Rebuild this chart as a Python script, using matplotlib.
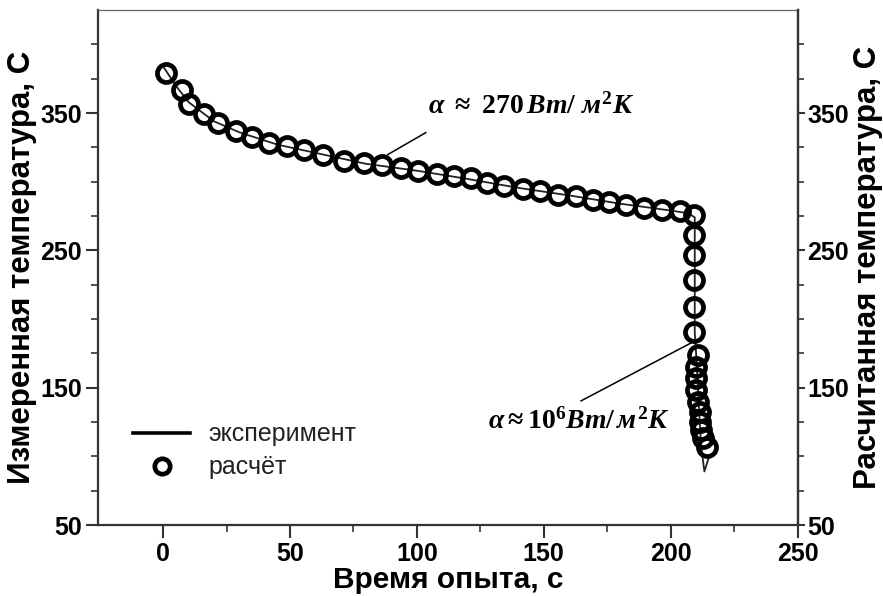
import matplotlib
matplotlib.use("Agg")
import matplotlib.pyplot as plt
from matplotlib.ticker import FixedLocator

# расчёт (circles)
t_calc = [1.2, 7.4, 10.4, 16.2, 21.8, 28.8, 35.0, 41.6, 48.9, 55.7, 63.1, 71.2, 79.1,
          86.4, 93.6, 100.6, 107.8, 114.7, 121.2, 127.8, 134.4, 141.7, 148.6, 155.5,
          162.7, 169.3, 175.9, 182.5, 189.7, 196.6, 203.5, 209.4,
          209.4, 209.4, 209.4, 209.4, 209.4,
          210.8, 210.1, 210.1, 210.1, 210.8, 211.4, 211.4, 212.1, 212.8, 214.2]
T_calc = [379.2, 367.0, 356.6, 349.3, 342.8, 337.2, 332.3, 328.2, 325.7, 323.3, 319.7,
          314.8, 313.6, 311.9, 310.0, 308.0, 305.6, 303.9, 302.7, 299.1, 297.1, 294.7,
          292.9, 290.5, 289.3, 286.9, 284.9, 283.2, 280.8, 279.1, 278.4, 275.9,
          261.4, 246.8, 228.6, 209.1, 190.9,
          173.9, 165.4, 156.9, 148.4, 139.9, 132.6, 125.3, 119.2, 113.2, 106.5]

# эксперимент (line)
t_exp = [0, 5, 10, 20, 30, 45, 60, 80, 100, 120, 140, 160, 180, 200, 207, 209.5,
         209.5, 210.2, 211.0, 212.0, 213.3, 215.2]
T_exp = [384, 370, 358, 344, 336, 327, 321, 313, 308, 302, 295.5, 290, 284, 279,
         277, 274, 190, 170, 140, 108, 89, 100]

x_ticks = [0, 50, 100, 150, 200, 250]
y_ticks = [50, 150, 250, 350]
y_minor = [75, 100, 125, 175, 200, 225, 275, 300, 325, 375, 400]

plt.rcParams['font.family'] = ['Liberation Sans', 'DejaVu Sans']
plt.rcParams['mathtext.fontset'] = 'custom'
plt.rcParams['mathtext.rm'] = 'Liberation Serif:bold'
plt.rcParams['mathtext.it'] = 'Liberation Serif:italic:bold'
plt.rcParams['mathtext.bf'] = 'Liberation Serif:bold'

fig = plt.figure(figsize=(8.83, 5.96), dpi=100)
ax = fig.add_axes([0.1114, 0.1191, 0.7918, 0.8641])

ax.plot(t_exp, T_exp, color='#222222', lw=1.3, label='эксперимент', zorder=2)
ax.plot(t_calc, T_calc, 'o', ms=13, mfc='none', mec='black', mew=3.4,
        label='расчёт', zorder=3)

ax.set_xlim(-25.5, 250)
ax.set_ylim(50, 425)
ax.xaxis.set_major_locator(FixedLocator(x_ticks))
ax.xaxis.set_minor_locator(FixedLocator([25, 75, 125, 175, 225]))
ax.yaxis.set_major_locator(FixedLocator(y_ticks))
ax.yaxis.set_minor_locator(FixedLocator(y_minor))

for s in ax.spines.values():
    s.set_color('#333333')
    s.set_linewidth(1.6)
ax.spines['top'].set_linewidth(0.9)
ax.spines['top'].set_color('#666666')

ax.tick_params(which='major', direction='out', length=9, width=1.5, color='#333333',
               labelsize=18, pad=3)
ax.tick_params(which='minor', direction='out', length=5, width=1.2, color='#333333')
for lab in ax.get_xticklabels() + ax.get_yticklabels():
    lab.set_fontweight('bold')

ax.set_xlabel('Время опыта, с', fontsize=21.5, fontweight='bold', labelpad=0)
ax.set_ylabel('Измеренная температура, С', fontsize=22.5, fontweight='bold', labelpad=2)

ax2 = ax.twinx()
ax2.set_ylim(50, 425)
ax2.yaxis.set_major_locator(FixedLocator(y_ticks))
ax2.yaxis.set_minor_locator(FixedLocator(y_minor))
for s in ax2.spines.values():
    s.set_visible(False)
ax2.spines['right'].set_visible(True)
ax2.spines['right'].set_color('#333333')
ax2.spines['right'].set_linewidth(1.6)
ax2.tick_params(which='major', direction='out', length=5, width=1.5, color='#333333',
                labelsize=18, pad=2)
ax2.tick_params(which='minor', direction='out', length=4, width=1.2, color='#333333')
for lab in ax2.get_yticklabels():
    lab.set_fontweight('bold')
ax2.set_ylabel('Расчитанная температура, С', fontsize=22.5, fontweight='bold', labelpad=3)

# annotations
ax.plot([88.5, 103.5], [319.7, 335.7], color='black', lw=1.1, zorder=4)
ax.text(104.3, 355, r'$\alpha\ \approx\ \mathrm{270}\,Вт/\ м^2К$', fontsize=20,
        ha='left', va='center')
ax.plot([164.7, 208.9], [140.4, 183.4], color='black', lw=1.1, zorder=4)
ax.text(128, 125.3, r'$\alpha\approx\mathrm{10}^6Вт/\,м^2К$', fontsize=20,
        ha='left', va='center')

leg = ax.legend(loc='upper left', bbox_to_anchor=(0.017, 0.243), frameon=False,
                fontsize=18, handlelength=2.3, handletextpad=0.72, labelspacing=0.36,
                markerscale=0.85, borderpad=0.4)
leg.get_lines()[0].set_linewidth(2.6)
leg.get_lines()[0].set_color('black')
for txt in leg.get_texts():
    txt.set_color('#222222')

fig.savefig('out.png', dpi=100)
